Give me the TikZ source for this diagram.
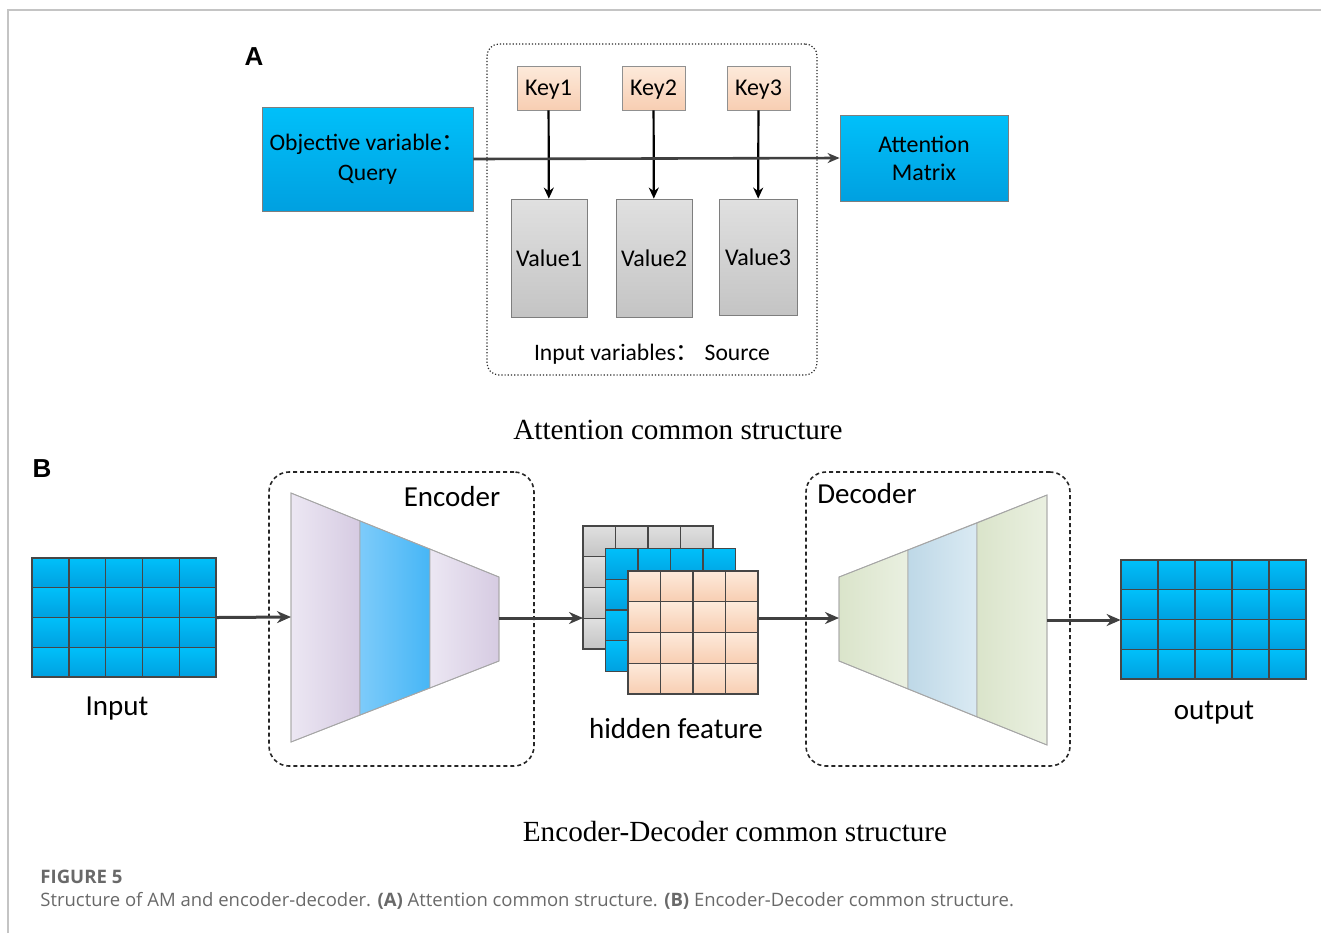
\documentclass[tikz,border=0pt]{standalone}
\usepackage{fontspec}
\usepackage{xcolor}
\usetikzlibrary{shapes.geometric, arrows, arrows.meta, positioning, fit}
\setmainfont{Carlito}
\newfontfamily\timesfont{Liberation Serif}
\newfontfamily\capfont{Open Sans}
\newfontfamily\arialfont{Liberation Sans}
\newfontfamily\cjk{Noto Sans CJK SC}

\definecolor{skytop}{RGB}{0,192,250}
\definecolor{skybot}{RGB}{0,160,224}
\definecolor{peachtop}{RGB}{253,234,219}
\definecolor{peachbot}{RGB}{248,206,178}
\definecolor{greytop}{RGB}{224,224,224}
\definecolor{greybot}{RGB}{196,196,196}
\definecolor{edge}{RGB}{70,70,70}
\definecolor{arrowgrey}{RGB}{64,64,64}
\definecolor{framegrey}{RGB}{196,196,196}
\definecolor{lavl}{RGB}{236,231,243}
\definecolor{lavr}{RGB}{214,203,226}
\definecolor{bluel}{RGB}{125,203,250}
\definecolor{bluer}{RGB}{70,182,246}
\definecolor{sagel}{RGB}{218,228,202}
\definecolor{sager}{RGB}{234,240,225}
\definecolor{icel}{RGB}{190,216,231}
\definecolor{icer}{RGB}{218,234,243}
\definecolor{capgrey}{RGB}{105,105,105}

\tikzstyle{query}    = [rectangle, minimum width=105.5pt, minimum height=52pt, inner sep=0pt, align=center, draw=edge!70, top color=skytop, bottom color=skybot, font=\fontsize{11.8}{15}\selectfont]
\tikzstyle{keybox}   = [rectangle, minimum width=31.5pt, minimum height=22pt, inner sep=0pt, text height=7.7pt, text depth=0pt, draw=edge!60, top color=peachtop, bottom color=peachbot, font=\fontsize{12}{13}\selectfont]
\tikzstyle{valuebox} = [rectangle, minimum width=38pt, minimum height=59pt, inner sep=0pt, draw=edge!70, top color=greytop, bottom color=greybot, font=\fontsize{12}{13}\selectfont]
\tikzstyle{group}    = [rectangle, rounded corners=6pt, draw=black!85, densely dotted, line width=0.6pt]
\tikzstyle{coderbox} = [rectangle, rounded corners=10pt, draw=black!85, dash pattern=on 2pt off 1.5pt, line width=0.8pt]
\tikzstyle{gridbox}  = [rectangle, inner sep=0pt]
\tikzstyle{cell}     = [draw=edge, line width=0.7pt]
\tikzstyle{txt}      = [font=\fontsize{11.8}{13}\selectfont]
\tikzstyle{label}    = [font=\fontsize{14.5}{16}\selectfont]
\tikzstyle{title}    = [font=\timesfont\fontsize{14.6}{16}\selectfont]
\tikzstyle{panel}    = [font=\arialfont\bfseries\fontsize{13}{14}\selectfont]
\tikzstyle{layer}    = [draw=gray!70, line width=0.4pt]
\tikzstyle{arrow}    = [line width=1.5pt, draw=arrowgrey, ->, >={Stealth[length=7pt, width=6pt]}]
\tikzstyle{keyarrow} = [line width=1.1pt, draw=black, ->, >={Stealth[length=5.5pt, width=5pt]}]

\begin{document}
\begin{tikzpicture}[x=0.5pt, y=-0.5pt]
    \useasboundingbox (0,0) rectangle (1321,933);
    \draw [framegrey, line width=0.8pt] (8,933) -- (8,10) -- (1321,10);

    % ---- A: attention ----
    \node (pA)    at (254, 57)   [panel] {A};
    \node (src)   at (652,209.5) [group, minimum width=165pt, minimum height=165.5pt] {};
    \node (query) at (367.5,159) [query] {Objective variable{\cjk ：}\\Query};
    \node (attn)  at (924, 158)  [query, minimum width=84pt, minimum height=43pt, font=\fontsize{12}{14}\selectfont] {Attention\\Matrix};
    \node (key1)  at (548.5, 88) [keybox] {Key1};
    \node (key2)  at (653.5, 88) [keybox] {Key2};
    \node (key3)  at (758.5, 88) [keybox] {Key3};
    \node (val1)  at (549, 258)  [valuebox] {Value1};
    \node (val2)  at (654, 258)  [valuebox] {Value2};
    \node (val3)  at (758, 257)  [valuebox, minimum height=58pt, minimum width=39pt] {Value3};
    \node (srcl)  at (652, 354)  [txt] {Input variables{\cjk ：}\ Source};

    \draw [keyarrow] (key1) -- (val1);
    \draw [keyarrow] (key2) -- (val2);
    \draw [keyarrow] (key3) -- (val3);
    % query runs through the keys into the matrix
    \draw [arrow, line width=1.3pt, >={Stealth[length=6pt, width=5pt]}] (query.east) -- (attn.west);

    \node (titleA) at (678, 430) [title] {Attention common structure};

    % ---- B: encoder-decoder ----
    \node (pB)  at (42, 469) [panel] {B};
    \node (encbox) at (401.5,619) [coderbox, minimum width=132.5pt, minimum height=147pt] {};
    \node (decbox) at (938, 619)  [coderbox, minimum width=132pt, minimum height=147pt] {};
    \node (enclabel) at (452, 497) [label] {Encoder};
    \node (declabel) at (867, 494) [label] {Decoder};

    % input grid
    \node (inp) at (124, 617.5) [gridbox, minimum width=92pt, minimum height=59.5pt] {};
    \foreach \c in {0,...,4}
      \foreach \r in {0,...,3}
        \draw [cell, top color=skytop, bottom color=skybot] (32+\c*36.8, 558+\r*29.75) rectangle ++(36.8,29.75);
    \node (inlabel) at (117, 709) [label] {Input};

    % encoder layers
    \path [layer, left color=lavl, right color=lavr]   (291,493) -- (360,521) -- (360,715) -- (291,742) -- cycle;
    \path [layer, left color=bluel, right color=bluer] (360,521) -- (430,549) -- (430,688) -- (360,715) -- cycle;
    \path [layer, left color=lavl, right color=lavr]   (430,549) -- (499,577) -- (499,661) -- (430,688) -- cycle;
    \draw [layer] (291,493) -- (499,577) -- (499,661) -- (291,742) -- cycle;
    \coordinate (encin)  at (291,617);
    \coordinate (encout) at (499,618);

    % hidden feature stack
    \node (hgrey)  at (648, 587.5)   [gridbox, minimum width=65pt, minimum height=61.5pt] {};
    \foreach \c in {0,...,3}
      \foreach \r in {0,...,3}
        \draw [cell, top color=greytop, bottom color=greybot] (583+\c*32.5, 526+\r*30.75) rectangle ++(32.5,30.75);
    \node (hblue)  at (670.5, 610)   [gridbox, minimum width=65pt, minimum height=61.5pt] {};
    \foreach \c in {0,...,3}
      \foreach \r in {0,...,3}
        \draw [cell, top color=skytop, bottom color=skybot] (605.5+\c*32.5, 548.5+\r*30.75) rectangle ++(32.5,30.75);
    \node (hpeach) at (693, 632.5)   [gridbox, minimum width=65pt, minimum height=61.5pt] {};
    \foreach \c in {0,...,3}
      \foreach \r in {0,...,3}
        \draw [cell, top color=peachtop, bottom color=peachbot] (628+\c*32.5, 571+\r*30.75) rectangle ++(32.5,30.75);
    \coordinate (hidin)  at (583,618);
    \coordinate (hidout) at (757,618);
    \node (hidlabel) at (676, 729) [label] {hidden feature};

    % decoder layers
    \path [layer, left color=sagel, right color=sager] (839,577) -- (908,550) -- (908,689) -- (839,661) -- cycle;
    \path [layer, left color=icel, right color=icer]   (908,550) -- (977,523) -- (977,717) -- (908,689) -- cycle;
    \path [layer, left color=sagel, right color=sager] (977,523) -- (1047,495) -- (1047,745) -- (977,717) -- cycle;
    \draw [layer] (839,577) -- (1047,495) -- (1047,745) -- (839,661) -- cycle;
    \coordinate (decin)  at (839,618);
    \coordinate (decout) at (1047,620);

    % output grid
    \node (outp) at (1213.5, 619.5) [gridbox, minimum width=92.5pt, minimum height=59.5pt] {};
    \foreach \c in {0,...,4}
      \foreach \r in {0,...,3}
        \draw [cell, top color=skytop, bottom color=skybot] (1121+\c*37, 560+\r*29.75) rectangle ++(37,29.75);
    \node (outlabel) at (1214, 713) [label] {output};

    \draw [arrow] (inp.east) -- (encin);
    \draw [arrow] (encout) -- (hidin);
    \draw [arrow] (hidout) -- (decin);
    \draw [arrow] (decout) -- (outp.west |- decout);

    \node (titleB) at (735, 831) [title] {Encoder-Decoder common structure};

    % ---- figure caption ----
    \node (fig) at (40, 877) [anchor=west, inner sep=0pt, text=capgrey, font=\capfont\bfseries\fontsize{9.3}{11}\selectfont] {FIGURE 5};
    \node (cap) at (40, 901) [anchor=west, inner sep=0pt, text=capgrey, font=\capfont\fontsize{9.25}{11}\selectfont]
        {Structure of AM and encoder-decoder. \textbf{(A)} Attention common structure. \textbf{(B)} Encoder-Decoder common structure.};
\end{tikzpicture}
\end{document}
